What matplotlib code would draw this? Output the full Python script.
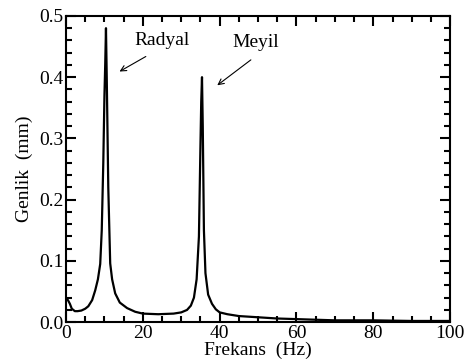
import matplotlib
matplotlib.use('Agg')
import matplotlib.pyplot as plt
from matplotlib.ticker import MultipleLocator

# Frekans (Hz) / Genlik (mm) noktalari
frekans = [0.0, 0.5, 1.0, 1.5, 2.3, 3.0, 4.0, 5.0, 5.8, 6.8, 7.6, 8.3, 8.9, 9.3, 9.7,
           10.0, 10.2, 10.4, 10.6, 11.0, 11.5, 12.0, 12.8, 14.0, 15.9, 18.0, 20.0,
           24.0, 28.0, 30.0, 31.5, 32.5, 33.3, 34.0, 34.6, 35.0, 35.2, 35.4, 35.6,
           35.9, 36.3, 37.0, 38.0, 39.0, 40.0, 42.0, 45.0, 50.0, 55.0, 60.0, 65.0,
           70.0, 80.0, 90.0, 100.0]
genlik = [0.039, 0.036, 0.030, 0.022, 0.018, 0.018, 0.019, 0.022, 0.026, 0.036, 0.052, 0.070, 0.095, 0.150, 0.260,
          0.370, 0.420, 0.480, 0.400, 0.220, 0.096, 0.070, 0.047, 0.032, 0.023, 0.017, 0.014,
          0.013, 0.014, 0.016, 0.020, 0.027, 0.040, 0.070, 0.140, 0.290, 0.360, 0.400, 0.320,
          0.150, 0.080, 0.045, 0.030, 0.021, 0.016, 0.013, 0.010, 0.008, 0.006, 0.005, 0.004,
          0.003, 0.003, 0.002, 0.002]

plt.rcParams['font.family'] = ['Liberation Serif', 'DejaVu Serif']

fig = plt.figure(figsize=(4.65, 3.62), dpi=100)
ax = fig.add_axes([0.142, 0.110, 0.826, 0.846])

ax.plot(frekans, genlik, color='black', lw=1.6)

ax.set_xlim(0, 100)
ax.set_ylim(0, 0.5)
ax.xaxis.set_major_locator(MultipleLocator(20))
ax.xaxis.set_minor_locator(MultipleLocator(5))
ax.yaxis.set_major_locator(MultipleLocator(0.1))
ax.yaxis.set_minor_locator(MultipleLocator(0.02))
ax.yaxis.set_major_formatter(matplotlib.ticker.FormatStrFormatter('%.1f'))

ax.tick_params(which='both', direction='in', top=True, right=True, width=1.5, labelsize=14)
ax.tick_params(which='major', length=7, pad=2)
ax.tick_params(which='minor', length=4)
for sp in ax.spines.values():
    sp.set_linewidth(1.5)

ax.set_xlabel('Frekans  (Hz)', fontsize=14, labelpad=0)
ax.set_ylabel('Genlik  (mm)', fontsize=14, labelpad=4)

# oklar ve etiketler
ax.annotate('', xy=(13.3, 0.407), xytext=(21.4, 0.436),
            arrowprops=dict(arrowstyle='->', color='black', lw=0.8))
ax.text(25, 0.460, 'Radyal', fontsize=14, ha='center', va='center')
ax.annotate('', xy=(38.8, 0.384), xytext=(48.7, 0.431),
            arrowprops=dict(arrowstyle='->', color='black', lw=0.8))
ax.text(49.5, 0.457, 'Meyil', fontsize=14, ha='center', va='center')

fig.savefig('out.png', dpi=100)
